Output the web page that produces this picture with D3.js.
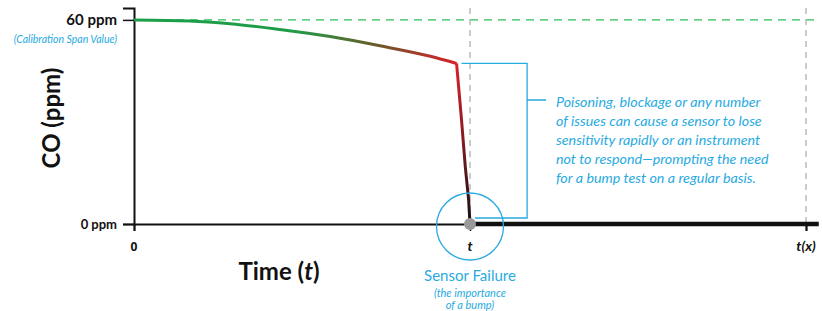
<!DOCTYPE html>
<html>
<head>
<meta charset="utf-8">
<script src="https://cdn.jsdelivr.net/npm/d3@7"></script>
<style>
  body { margin: 0; background: #fff; }
  svg { display: block; font-family: Lato, "Open Sans", sans-serif; }
</style>
</head>
<body>
<div id="chart"></div>
<script>
// time in % of t(x), CO reading in ppm
const spanValue = 60;
const failureTime = 50;
const endTime = 100;
const readingTime = [0, 8.3, 14.3, 21.7, 29.2, 36.6, 44.1, 48.0];
const readingPpm  = [60, 59.7, 58.9, 57.2, 55.1, 52.4, 49.3, 47.2];
const dropTime = [48.0, 48.7, 49.3, 49.8, 50];
const dropPpm  = [47.2, 31.5, 16.8, 7.0, 0];
const deadTime = [50, 101.9];
const deadPpm  = [0, 0];
const xTicks = [0, failureTime, endTime];
const xTickLabels = ["0", "t", "t(x)"];
const yTicks = [0, spanValue];
const yTickLabels = ["0 ppm", "60 ppm"];
const noteLines = [
  "Poisoning, blockage or any number",
  "of issues can cause a sensor to lose",
  "sensitivity rapidly or an instrument",
  "not to respond\u2014prompting the need",
  "for a bump test on a regular basis."
];

const width = 822, height = 311;
const blue = "#29aae1";
const green = "#1a9f4a";

const svg = d3.select("#chart")
    .append("svg")
    .attr("width", width)
    .attr("height", height);

const x = d3.scaleLinear().domain([0, endTime]).range([134, 806]);
const y = d3.scaleLinear().domain([0, 63.5]).range([224, 8]);

// gradients
const defs = svg.append("defs");
const gH = defs.append("linearGradient")
    .attr("id", "gradH")
    .attr("gradientUnits", "userSpaceOnUse")
    .attr("x1", x(0)).attr("x2", x(48)).attr("y1", 0).attr("y2", 0);
gH.append("stop").attr("offset", 0).attr("stop-color", green);
gH.append("stop").attr("offset", 0.5).attr("stop-color", "#1f9c46");
gH.append("stop").attr("offset", 0.75).attr("stop-color", "#6a5a2a");
gH.append("stop").attr("offset", 1).attr("stop-color", "#d8202a");

const gV = defs.append("linearGradient")
    .attr("id", "gradV")
    .attr("gradientUnits", "userSpaceOnUse")
    .attr("x1", 0).attr("x2", 0).attr("y1", y(47.2)).attr("y2", y(0));
gV.append("stop").attr("offset", 0).attr("stop-color", "#d8202a");
gV.append("stop").attr("offset", 0.45).attr("stop-color", "#8a1c22");
gV.append("stop").attr("offset", 1).attr("stop-color", "#111");

// reference dashed lines
svg.append("line")
    .attr("x1", x(0)).attr("x2", x(101.3))
    .attr("y1", y(spanValue)).attr("y2", y(spanValue))
    .attr("stroke", "#2dbd5a").attr("stroke-width", 1.3)
    .attr("stroke-dasharray", "8,6");

svg.selectAll(".vdash")
    .data([failureTime, endTime])
    .enter()
    .append("line")
    .attr("x1", d => x(d)).attr("x2", d => x(d))
    .attr("y1", y(63.5)).attr("y2", y(0))
    .attr("stroke", "#aaa").attr("stroke-width", 1.2)
    .attr("stroke-dasharray", "6,5");

// axes
const yAxis = svg.append("g")
    .attr("transform", `translate(${x(0)},0)`)
    .call(d3.axisLeft(y).tickValues(yTicks).tickSize(11).tickFormat(""));
yAxis.select(".domain").attr("stroke", "#111").attr("stroke-width", 2);
yAxis.selectAll(".tick line").attr("stroke", "#111").attr("stroke-width", 1.5);

const xAxis = svg.append("g")
    .attr("transform", `translate(0,${y(0)})`)
    .call(d3.axisBottom(x).tickValues(xTicks).tickSize(7).tickFormat(""));
xAxis.select(".domain").attr("stroke", "#111").attr("stroke-width", 2);
xAxis.selectAll(".tick line").attr("stroke", "#111").attr("stroke-width", 1.5);

// y tick labels
svg.selectAll(".ylab")
    .data(yTicks)
    .enter()
    .append("text")
    .attr("x", 117)
    .attr("y", d => y(d))
    .attr("dy", "0.36em")
    .attr("text-anchor", "end")
    .attr("font-weight", "bold")
    .attr("font-size", (d, i) => i === 0 ? "13px" : "15px")
    .attr("fill", "#111")
    .text((d, i) => yTickLabels[i]);

svg.append("text")
    .attr("x", 117).attr("y", 43)
    .attr("text-anchor", "end")
    .attr("font-style", "italic")
    .attr("font-size", "10.5px")
    .attr("fill", blue)
    .text("(Calibration Span Value)");

// x tick labels
svg.selectAll(".xlab")
    .data(xTicks)
    .enter()
    .append("text")
    .attr("x", d => x(d))
    .attr("y", 251)
    .attr("text-anchor", "middle")
    .attr("font-family", (d, i) => i === 0 ? "'Open Sans', sans-serif" : null)
    .attr("font-weight", "bold")
    .attr("font-style", (d, i) => i === 0 ? "normal" : "italic")
    .attr("font-size", (d, i) => i === 0 ? "12px" : "14px")
    .attr("fill", "#111")
    .text((d, i) => xTickLabels[i]);

// axis titles
const tt = svg.append("text")
    .attr("x", 279).attr("y", 280)
    .attr("text-anchor", "middle")
    .attr("font-weight", "bold")
    .attr("font-size", "24px")
    .attr("fill", "#111");
tt.append("tspan").text("Time (");
tt.append("tspan").attr("font-style", "italic").text("t");
tt.append("tspan").text(")");

svg.append("text")
    .attr("transform", "translate(60,118) rotate(-90)")
    .attr("text-anchor", "middle")
    .attr("font-weight", "bold")
    .attr("font-size", "24px")
    .attr("fill", "#111")
    .text("CO (ppm)");

// readings
const line = d3.line().x(d => x(d[0])).y(d => y(d[1]));

svg.append("path")
    .datum(readingTime.map((t, i) => [t, readingPpm[i]]))
    .attr("d", line.curve(d3.curveMonotoneX))
    .attr("fill", "none")
    .attr("stroke", "url(#gradH)")
    .attr("stroke-width", 3);

svg.append("path")
    .datum(dropTime.map((t, i) => [t, dropPpm[i]]))
    .attr("d", line.curve(d3.curveLinear))
    .attr("fill", "none")
    .attr("stroke", "url(#gradV)")
    .attr("stroke-width", 3)
    .attr("stroke-linejoin", "round");

svg.append("path")
    .datum(deadTime.map((t, i) => [t, deadPpm[i]]))
    .attr("d", line)
    .attr("fill", "none")
    .attr("stroke", "#111")
    .attr("stroke-width", 4.5);

// failure marker
svg.append("circle")
    .attr("cx", x(failureTime)).attr("cy", y(0) + 2.5)
    .attr("r", 33.5)
    .attr("fill", "none")
    .attr("stroke", blue)
    .attr("stroke-width", 1.3);

svg.append("circle")
    .attr("cx", x(failureTime)).attr("cy", y(0))
    .attr("r", 6)
    .attr("fill", "#999");

// bracket
const bx = x(58.5);
svg.append("path")
    .attr("d", `M${x(48) + 5},${y(47.2)}H${bx}V${y(0) - 6}H${x(failureTime) + 5}M${bx},100H${bx + 19}`)
    .attr("fill", "none")
    .attr("stroke", blue)
    .attr("stroke-width", 1.3);

svg.append("g").selectAll("text")
    .data(noteLines)
    .enter()
    .append("text")
    .attr("x", 556)
    .attr("y", (d, i) => 106.5 + i * 19)
    .attr("font-style", "italic")
    .attr("font-size", "14.3px")
    .attr("fill", blue)
    .text(d => d);

svg.append("text")
    .attr("x", x(failureTime)).attr("y", 281)
    .attr("text-anchor", "middle")
    .attr("font-size", "15px")
    .attr("fill", blue)
    .text("Sensor Failure");

svg.selectAll(".sub")
    .data(["(the importance", "of a bump)"])
    .enter()
    .append("text")
    .attr("x", x(failureTime))
    .attr("y", (d, i) => 296.5 + i * 12.5)
    .attr("text-anchor", "middle")
    .attr("font-style", "italic")
    .attr("font-size", "11px")
    .attr("fill", blue)
    .text(d => d);
</script>
</body>
</html>
